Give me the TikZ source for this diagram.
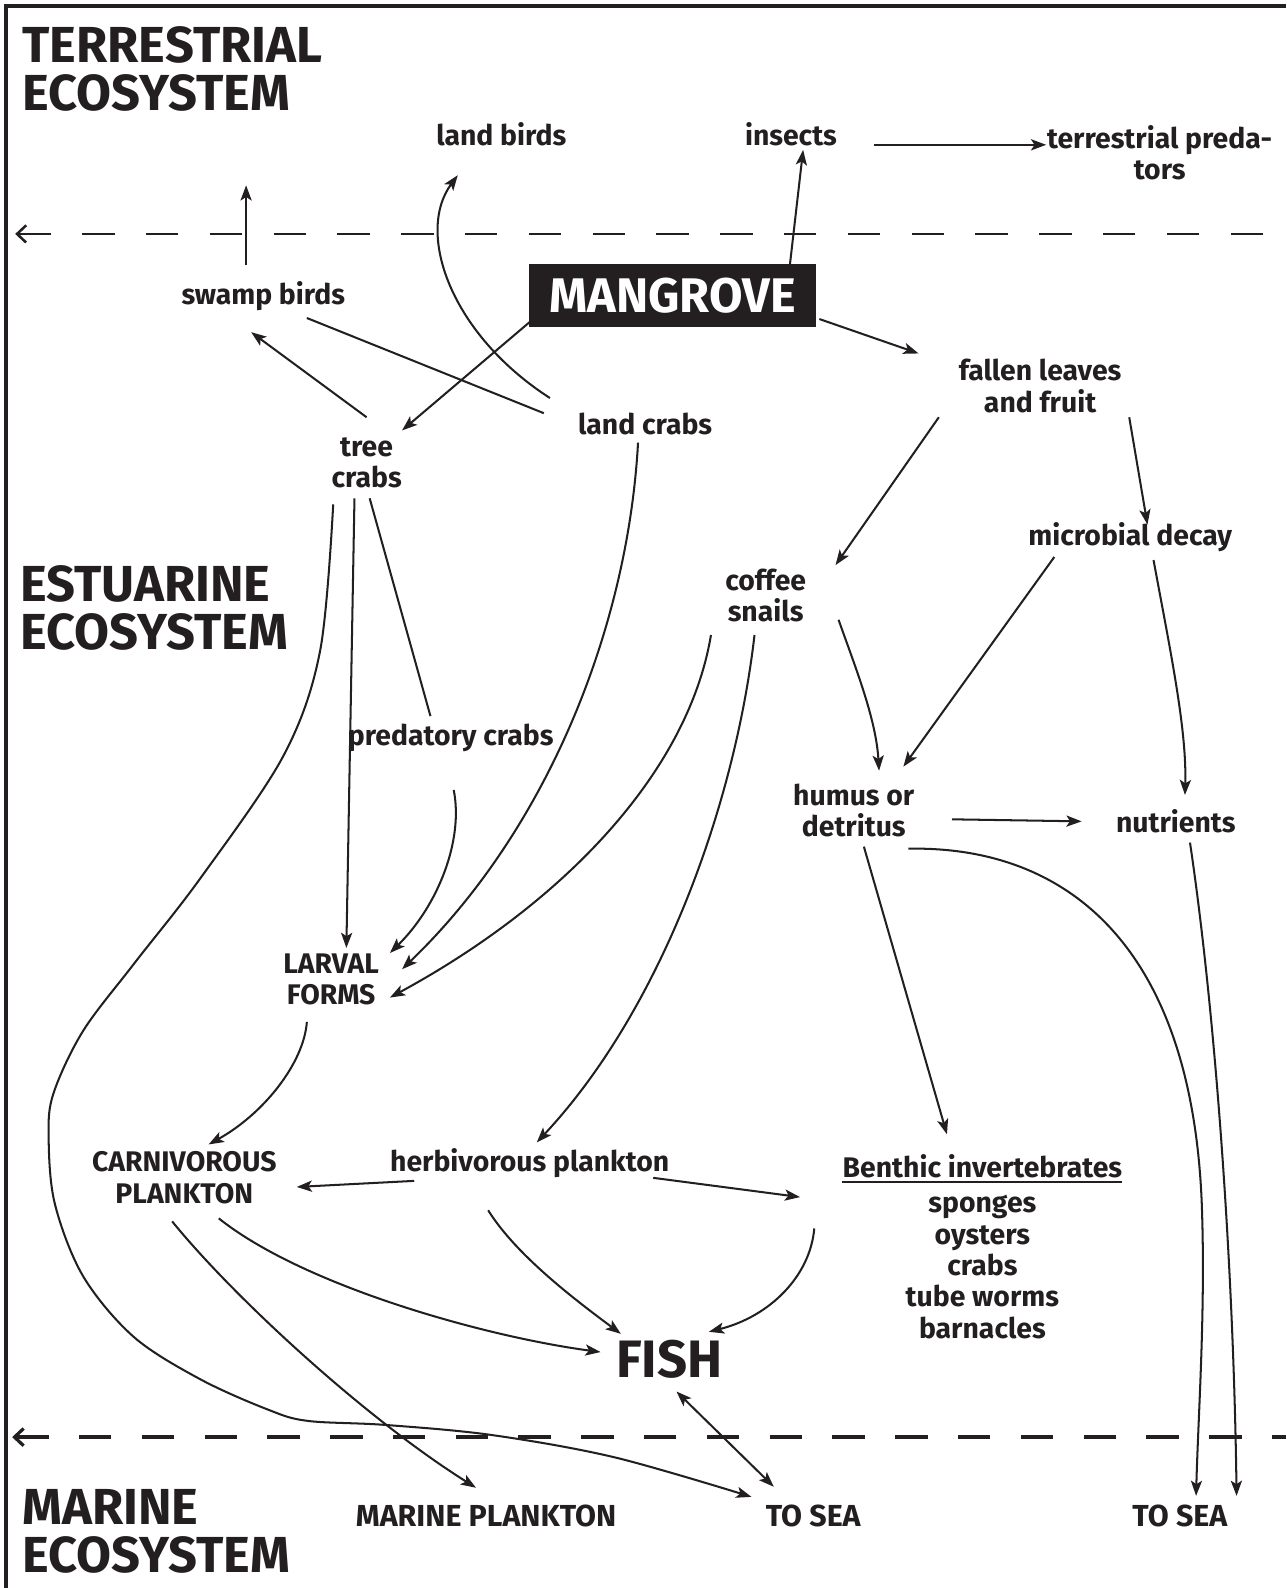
\documentclass[tikz,border=0pt]{standalone}
\usepackage{fontspec}
\setmainfont{Fira Sans}
\usetikzlibrary{arrows.meta,calc}
\definecolor{ink}{HTML}{231F20}
\begin{document}
\begin{tikzpicture}[x=1pt,y=-1pt,
  >={Stealth[length=15pt,width=11pt,inset=3.5pt]},
  lbl/.style={font=\bfseries\fontsize{28}{31}\selectfont, align=center, inner sep=0pt, text=ink},
  caps/.style={lbl, font=\bfseries\fontsize{30}{31}\selectfont},
  head/.style={font=\bfseries\fontsize{50}{47}\selectfont, align=left, inner sep=0pt, anchor=west, text=ink},
  con/.style={line width=2pt, draw=ink},
  arr/.style={con, ->},
  dbl/.style={con, <->},
  sepline/.style={draw=ink, dash pattern=on 32pt off 31pt, {Straight Barb[length=9pt,width=17pt]}-}
]
\useasboundingbox (0,0) rectangle (1270,1568);
% frame
\draw[ink, line width=4pt] (6,1568) -- (6,6) -- (1270,6);

% headings
\node[head] (terr) at (22,68) {TERRESTRIAL\\ECOSYSTEM};
\node[head] (estu) at (20,600) {ESTUARINE\\ECOSYSTEM};
\node[head] (mari) at (22,1512) {MARINE\\ECOSYSTEM};

% dashed boundaries
\coordinate (d1l) at (15,231);
\coordinate (d1r) at (1258,231);
\coordinate (d2l) at (12,1419);
\coordinate (d2r) at (1270,1419);
\draw[sepline, line width=2.5pt] (d1l) -- (d1r);
\draw[sepline, line width=3.2pt, dash pattern=on 32pt off 30pt] (d2l) -- (d2r);

% nodes
\node[lbl] (landbirds) at (495,133) {land birds};
\node[lbl] (insects) at (781,133) {insects};
\node[lbl] (terrpred) at (1145,151) {terrestrial preda-\\tors};
\node[lbl] (swamp) at (260,292) {swamp birds};
\node[fill=ink, text=white, minimum width=284pt, minimum height=62pt, inner sep=0pt,
      font=\bfseries\fontsize{48}{50}\selectfont] (mangrove) at (664,292) {MANGROVE};
\node[lbl] (fallen) at (1027,381) {fallen leaves\\and fruit};
\node[lbl] (landcrabs) at (637,419) {land crabs};
\node[lbl] (tree) at (362,457) {tree\\crabs};
\node[lbl] (microbial) at (1116,530) {microbial decay};
\node[lbl] (coffee) at (756,588) {coffee\\snails};
\node[lbl] (predatory) at (445,729) {predatory crabs};
\node[lbl] (humus) at (843,800) {humus or\\detritus};
\node[lbl] (nutrients) at (1161,811) {nutrients};
\node[lbl] (larval) at (327,967) {LARVAL\\FORMS};
\node[lbl] (carniv) at (182,1163) {CARNIVOROUS\\PLANKTON};
\node[lbl] (herbiv) at (523,1148) {herbivorous plankton};
\node[lbl] (benthic) at (970,1152) {Benthic invertebrates};
\draw[ink, line width=1.8pt] ([yshift=-4pt]benthic.base west) -- ([yshift=-4pt]benthic.base east);
\node[lbl] (benthiclist) at (970,1251) {sponges\\oysters\\crabs\\tube worms\\barnacles};
\node[lbl, font=\bfseries\fontsize{52}{52}\selectfont] (fish) at (661,1342) {FISH};
\node[caps] (marplank) at (480,1497) {MARINE PLANKTON};
\node[caps] (sea1) at (803,1497) {TO SEA};
\node[caps] (sea2) at (1165,1497) {TO SEA};

% connectors
\coordinate (swampup) at (243,183);
\draw[arr] ($(swamp)+(-17,-30)$) -- (swampup);
\draw[arr] ($(landcrabs)+(-94,-26)$) .. controls (445,330) and (410,230) .. ($(landbirds)+(-43,40)$);
\draw[arr] ($(mangrove)+(116,-31)$) -- ($(insects)+(12,15)$);
\draw[arr] ($(insects)+(82,10)$) -- ($(terrpred)+(-112,-8)$);
\draw[arr] ($(mangrove)+(145,23)$) -- ($(fallen)+(-120,-32)$);
\draw[arr] ($(mangrove)+(-141,26)$) -- ($(tree)+(35,-32)$);
\draw[con] ($(landcrabs)+(-100,-11)$) -- ($(swamp)+(43,22)$);
\draw[arr] ($(tree)+(0,-45)$) -- ($(swamp)+(-12,36)$);
\draw[arr] ($(fallen)+(-100,31)$) -- ($(coffee)+(69,-30)$);
\draw[arr] ($(fallen)+(88,31)$) -- ($(microbial)+(17,-12)$);
\draw[arr] ($(microbial)+(-75,20)$) -- ($(humus)+(49,-43)$);
\draw[arr] ($(microbial)+(23,23)$) .. controls (1155,640) and (1172,720) .. ($(nutrients)+(9,-26)$);
\draw[arr] ($(coffee)+(72,24)$) .. controls (845,660) and (865,710) .. ($(humus)+(25,-39)$);
\draw[arr] ($(humus)+(97,9)$) -- ($(nutrients)+(-93,0)$);
\draw[arr] ($(humus)+(54,38)$) .. controls (1050,835) and (1180,930) .. (1187,1200)
           .. controls (1190,1300) and (1183,1400) .. ($(sea2)+(16,-20)$);
\draw[arr] ($(nutrients)+(14,21)$) .. controls (1200,1000) and (1218,1250) .. ($(sea2)+(56,-20)$);
\draw[arr] ($(humus)+(10,36)$) -- ($(benthic)+(-35,-32)$);
\draw[arr] ($(coffee)+(-54,39)$) .. controls (680,760) and (560,890) .. ($(larval)+(58,18)$);
\draw[arr] ($(coffee)+(-11,39)$) .. controls (725,800) and (650,1000) .. ($(herbiv)+(7,-20)$);
\draw[arr] ($(landcrabs)+(-7,18)$) .. controls (620,620) and (540,820) .. ($(larval)+(70,-10)$);
\draw[arr] ($(predatory)+(3,51)$) .. controls (458,830) and (432,895) .. ($(larval)+(58,-26)$);
\draw[con] ($(tree)+(3,35)$) -- ($(predatory)+(-20,-22)$);
\draw[arr] ($(tree)+(-12,35)$) -- ($(larval)+(15,-31)$);
\coordinate (tcs) at ($(tree)+(-33,41)$);
\coordinate (tce) at ($(sea1)+(-61,-19)$);
\draw[arr] plot[smooth, tension=0.55] coordinates {(tcs) (316,643) (280,746) (198,867) (132,952)
   (82,1018) (53,1079) (48,1121) (54,1188) (82,1260) (132,1320) (198,1362) (265,1392) (304,1403)
   (381,1407) (486,1417) (607,1439) (tce)};
\draw[arr] ($(larval)+(-24,42)$) .. controls (300,1050) and (260,1100) .. ($(carniv)+(24,-33)$);
\draw[arr] ($(herbiv)+(-114,18)$) -- ($(carniv)+(111,9)$);
\draw[arr] ($(herbiv)+(122,15)$) -- ($(benthic)+(-180,30)$);
\draw[arr] ($(herbiv)+(-41,47)$) .. controls (510,1240) and (570,1285) .. ($(fish)+(-48,-25)$);
\draw[arr] ($(carniv)+(34,40)$) .. controls (300,1270) and (480,1320) .. ($(fish)+(-68,-7)$);
\draw[arr] ($(carniv)+(-12,43)$) .. controls (230,1280) and (360,1400) .. ($(marplank)+(-10,-28)$);
\draw[arr] ($(benthic)+(-166,61)$) .. controls (800,1260) and (760,1300) .. ($(fish)+(39,-27)$);
\draw[dbl] ($(fish)+(7,32)$) -- ($(sea1)+(-39,-29)$);
\end{tikzpicture}
\end{document}
